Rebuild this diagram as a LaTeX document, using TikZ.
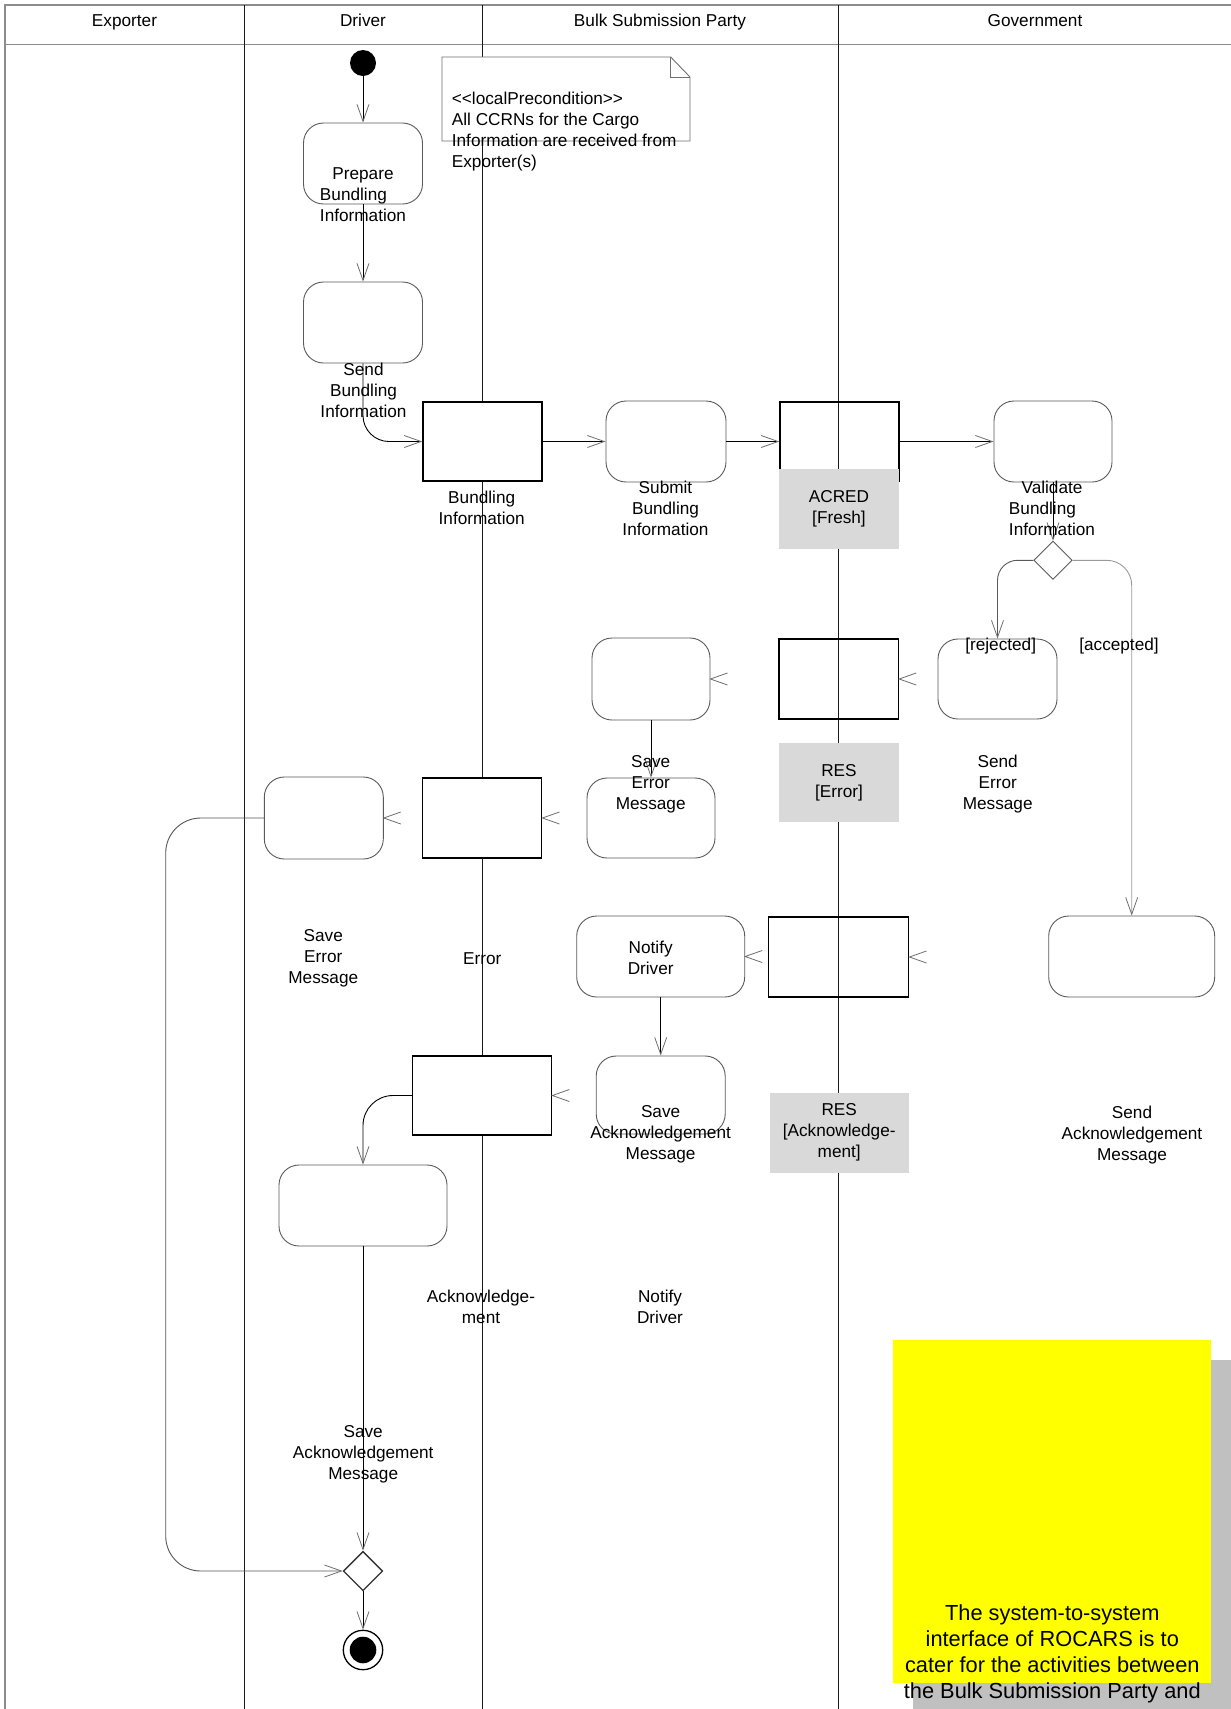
\documentclass[tikz,border=0pt]{standalone}
\usepackage{fontspec}
\setmainfont{Liberation Sans}
\usetikzlibrary{arrows.meta,shapes.geometric}

\definecolor{lanec}{HTML}{1A1A1A}
\definecolor{hdrc}{HTML}{8C8C8C}
\definecolor{actc}{HTML}{5A5A5A}
\definecolor{tipc}{HTML}{6E6E6E}
\definecolor{tagc}{HTML}{D9D9D9}
\definecolor{shadowc}{HTML}{C0C0C0}
\definecolor{accc}{HTML}{9A9A9A}
\definecolor{loopc}{HTML}{555555}
\definecolor{notec}{HTML}{707070}
\definecolor{noteyel}{RGB}{255,255,0}

% left-align a short line with a longer one inside a centred block
\newcommand\padl[2]{\rlap{#1}\phantom{#2}}

\begin{document}
\begin{tikzpicture}[x=1pt,y=-1pt,
  font=\fontsize{17.2}{21}\selectfont,
  >={Straight Barb[length=17pt,width=12pt,line width=0.8pt,color=tipc]},
  lane/.style={draw=lanec,line width=1pt},
  act/.style={draw=actc,line width=0.9pt,rounded corners=20pt,fill=white,inner sep=0pt},
  obj/.style={draw=black,line width=1.3pt,inner sep=0pt},
  objw/.style={obj,fill=white},
  lbl/.style={align=center,inner sep=0pt,execute at begin node=\strut,execute at end node=\strut},
  gtag/.style={lbl,fill=tagc},
  flow/.style={draw=black,line width=0.9pt,->},
  vtip/.style={draw=tipc,line width=0.8pt},
]
\useasboundingbox (0,0) rectangle (1231,1709);
\clip (0,0) rectangle (1231,1709);
\fill[white] (0,0) rectangle (1231,1709);

% swimlanes
\draw[draw=hdrc,line width=1.2pt] (5,1709) -- (5,5) -- (1231,5);
\draw[draw=hdrc,line width=1.8pt] (5,44.5) -- (1231,44.5);
\draw[lane] (244.3,5) -- (244.3,1709);
\draw[lane] (482.3,5) -- (482.3,1709);
\draw[lane] (838.8,5) -- (838.8,1709);
\node[lbl] (hExp) at (124.5,22.7) {Exporter};
\node[lbl] (hDrv) at (363,22.7) {Driver};
\node[lbl] (hBulk) at (660,22.7) {Bulk Submission Party};
\node[lbl] (hGov) at (1035,22.7) {Government};

% precondition note
\draw[draw=notec,line width=0.9pt,fill=white] (442,57) -- (670.7,57) -- (690,77) -- (690,141) -- (442,141) -- cycle;
\draw[draw=notec,line width=0.9pt] (670.7,57) |- (690,77);
\node[anchor=north west,align=left,inner sep=0pt,execute at begin node=\strut] (pre) at (451.7,92)
  {<\kern0pt<localPrecondition>\kern0pt>\\All CCRNs for the Cargo\\Information are received from\\Exporter(s)};

% start / end
\node[circle,fill=black,minimum size=26pt,inner sep=0pt] (init) at (363,63) {};
\node[diamond,draw=black!80,line width=1.3pt,minimum width=39.4pt,minimum height=39.4pt,inner sep=0pt] (fdec) at (363,1571) {};
\node[circle,draw=black,line width=1.3pt,minimum size=39.4pt,inner sep=0pt] (final) at (363,1650) {};
\fill[black] (final.center) circle[radius=13.3pt];

% activities
\node[act,minimum width=119pt,minimum height=81pt] (prep) at (363,163.5) {};
\node[act,minimum width=119pt,minimum height=81pt] (send) at (363,322.5) {};
\node[act,minimum width=120pt,minimum height=81pt] (submit) at (666,441.5) {};
\node[act,minimum width=118pt,minimum height=81pt] (validate) at (1053,441.5) {};
\node[act,minimum width=119pt,minimum height=80pt] (senderr) at (997.5,679) {};
\node[act,minimum width=118pt,minimum height=82pt] (saveerrB) at (651,679) {};
\node[act,minimum width=128pt,minimum height=80pt] (bulkbox) at (651,818) {};
\node[act,minimum width=119pt,minimum height=82pt] (expbox) at (323.8,818) {};
\node[act,minimum width=168pt,minimum height=81pt] (notify) at (660.7,956.5) {};
\node[act,minimum width=166pt,minimum height=81pt] (sendack) at (1131.7,956.5) {};
\node[act,minimum width=129pt,minimum height=78pt] (saveackB) at (660.7,1095) {};
\node[act,minimum width=168pt,minimum height=81pt] (saveackD) at (363,1205.5) {};

% decision
\node[diamond,draw=actc,line width=0.9pt,fill=white,minimum width=38.4pt,minimum height=38.4pt,inner sep=0pt] (dec) at (1053,560.3) {};

% objects
\node[objw,minimum width=119pt,minimum height=79pt] (bundinfo) at (482.5,441.5) {};
\node[obj,minimum width=119pt,minimum height=79pt] (acred) at (839.5,441.5) {};
\node[obj,minimum width=119.5pt,minimum height=80pt] (reserr) at (838.8,679) {};
\node[objw,minimum width=119pt,minimum height=80pt] (error) at (482.3,818) {};
\node[obj,minimum width=140pt,minimum height=80pt] (resack) at (838.8,957) {};
\node[objw,minimum width=139pt,minimum height=79pt] (ack) at (482.2,1095.5) {};

% connectors
\draw[flow] (init) -- (prep);
\draw[flow] (prep) -- (send);
\draw[flow,rounded corners=26pt] (send.south) |- (bundinfo.west);
\coordinate (loopx) at (165.7,1200);
\draw[flow,draw=loopc,rounded corners=35pt] (expbox.west) -| (loopx) |- (fdec.west);
\draw[flow] (bundinfo) -- (submit);
\draw[flow] (submit) -- (acred);
\draw[flow] (acred) -- (validate);
\draw[flow] (validate) -- (dec);
\draw[flow,draw=actc,rounded corners=20pt] (dec.west) -| (senderr.north);
\draw[flow,draw=accc,rounded corners=25pt] (dec.east) -| (sendack.north);
\draw[flow] (saveerrB) -- (bulkbox);
\draw[flow] (notify.south) -- (saveackB.north);
\draw[flow,rounded corners=30pt] (ack.west) -| (saveackD.north);
\draw[flow] (saveackD) -- (fdec);
\draw[flow] (fdec) -- (final);

% arrival tips of message flows
\draw[vtip] ([shift={(17,-6)}]reserr.east) -- (reserr.east) -- ([shift={(17,6)}]reserr.east);
\draw[vtip] ([shift={(17,-6)}]saveerrB.east) -- (saveerrB.east) -- ([shift={(17,6)}]saveerrB.east);
\draw[vtip] ([shift={(17,-6)}]error.east) -- (error.east) -- ([shift={(17,6)}]error.east);
\draw[vtip] ([shift={(17,-6)}]expbox.east) -- (expbox.east) -- ([shift={(17,6)}]expbox.east);
\draw[vtip] ([shift={(17,-6)}]resack.east) -- (resack.east) -- ([shift={(17,6)}]resack.east);
\draw[vtip] ([shift={(17,-6)}]notify.east) -- (notify.east) -- ([shift={(17,6)}]notify.east);
\draw[vtip] ([shift={(17,-6)}]ack.east) -- (ack.east) -- ([shift={(17,6)}]ack.east);

% object state tags
\node[gtag,minimum width=120pt,minimum height=80pt] (tacred) at (839,509) {\raisebox{-2pt}{ACRED}\\\raisebox{-2pt}{[Fresh]}};
\node[gtag,minimum width=120pt,minimum height=79pt] (treserr) at (839,782.7) {\raisebox{-2pt}{RES}\\\raisebox{-2pt}{[Error]}};
\node[gtag,minimum width=139pt,minimum height=80pt] (tresack) at (839.2,1132.7) {\raisebox{-2pt}{RES}\\\raisebox{-2pt}{[Acknowledge-}\\\raisebox{-2pt}{ment]}};

% labels
\node[lbl] (lprep) at (363,198) {Prepare\\\padl{Bundling}{Information}\\Information};
\node[lbl] (lsend) at (363.5,393) {Send\\Bundling\\Information};
\node[lbl] (lbund) at (481.7,511) {Bundling\\Information};
\node[lbl] (lsubmit) at (665.5,511.5) {Submit\\Bundling\\Information};
\node[lbl] (lvalid) at (1052,511.5) {Validate\\\padl{Bundling}{Information}\\Information};
\node[lbl] (lrej) at (1000.7,646.5) {{[rejected]}};
\node[lbl] (lacc) at (1119,646.5) {{[accepted]}};
\node[lbl] (lsaveerrB) at (650.7,785.5) {Save\\Error\\Message};
\node[lbl] (lsenderr) at (997.7,785.5) {Send\\Error\\Message};
\node[lbl] (lsaveerrE) at (323.3,960) {Save\\Error\\Message};
\node[lbl] (lerror) at (482.3,960.5) {Error};
\node[lbl] (lnotify) at (650.7,960.5) {Notify\\Driver};
\node[lbl] (lsaveackB) at (660.6,1136) {Save\\Acknowledgement\\Message};
\node[lbl] (lsendack) at (1132,1136) {Send\\Acknowledgement\\Message};
\node[lbl] (lackobj) at (481,1310) {Acknowledge-\\ment};
\node[lbl] (lnotify2) at (660,1310) {Notify\\Driver};
\node[lbl] (lsaveackD) at (363.2,1455.5) {Save\\Acknowledgement\\Message};

% comment note
\fill[shadowc] (913.3,1360) rectangle (1240,1720);
\fill[noteyel] (893.3,1340) rectangle (1211,1683.3);
\node[align=center,inner sep=0pt,font=\fontsize{21.8}{25.9}\selectfont,
      execute at begin node=\strut,execute at end node=\strut] (scope) at (1052.3,1655.5)
  {The system-to-system\\interface of ROCARS is to\\cater for the activities between\\the Bulk Submission Party and};
\end{tikzpicture}
\end{document}
